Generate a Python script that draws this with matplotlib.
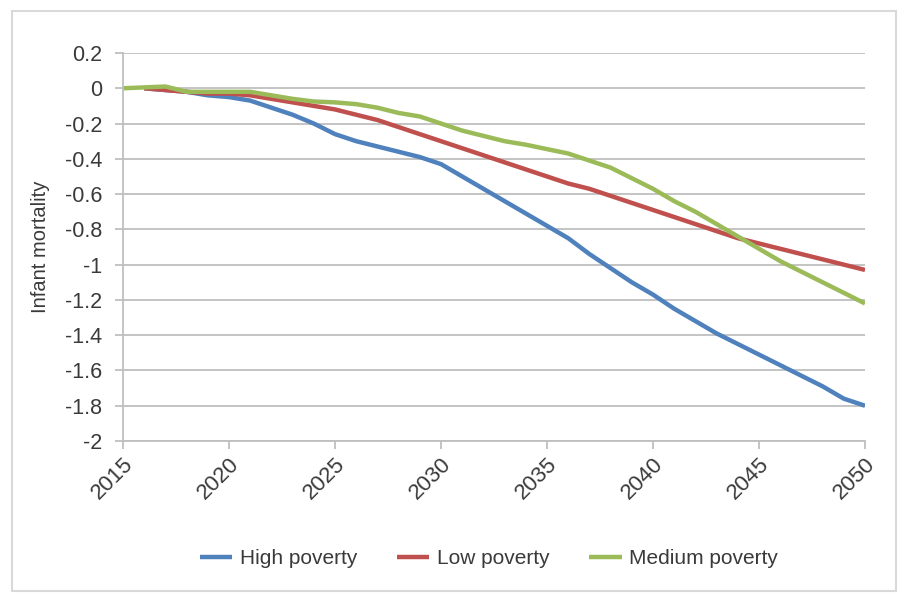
import matplotlib.pyplot as plt
from matplotlib.patches import Rectangle

years = list(range(2015, 2051))

high_years = years[1:]
high_poverty = [0, -0.01, -0.02, -0.04, -0.05, -0.07, -0.11, -0.15, -0.20, -0.26,
                -0.30, -0.33, -0.36, -0.39, -0.43, -0.50, -0.57, -0.64, -0.71, -0.78,
                -0.85, -0.94, -1.02, -1.10, -1.17, -1.25, -1.32, -1.39, -1.45, -1.51,
                -1.57, -1.63, -1.69, -1.76, -1.80]

low_years = years[1:]
low_poverty = [0, -0.01, -0.02, -0.03, -0.03, -0.04, -0.06, -0.08, -0.10, -0.12,
               -0.15, -0.18, -0.22, -0.26, -0.30, -0.34, -0.38, -0.42, -0.46, -0.50,
               -0.54, -0.57, -0.61, -0.65, -0.69, -0.73, -0.77, -0.81, -0.85, -0.88,
               -0.91, -0.94, -0.97, -1.00, -1.03]

medium_years = years
medium_poverty = [0, 0.005, 0.01, -0.02, -0.02, -0.02, -0.02, -0.04, -0.06, -0.075,
                  -0.08, -0.09, -0.11, -0.14, -0.16, -0.20, -0.24, -0.27, -0.30, -0.32,
                  -0.345, -0.37, -0.41, -0.45, -0.51, -0.57, -0.64, -0.70, -0.77, -0.84,
                  -0.91, -0.98, -1.04, -1.10, -1.16, -1.22]

series_names = ["High poverty", "Low poverty", "Medium poverty"]
colors = ["#4F81BD", "#C0504D", "#9BBB59"]

x_ticks = list(range(2015, 2051, 5))
y_ticks = [0.2, 0, -0.2, -0.4, -0.6, -0.8, -1, -1.2, -1.4, -1.6, -1.8, -2]
y_labels = ["0.2", "0", "-0.2", "-0.4", "-0.6", "-0.8", "-1", "-1.2", "-1.4",
            "-1.6", "-1.8", "-2"]

plt.rcParams['font.family'] = ['Liberation Sans', 'DejaVu Sans']

TEXT = "#3a3a3a"
AXIS = "#BFBFBF"

fig = plt.figure(figsize=(9.08, 5.99), dpi=100)
W, H = 908, 599
fig.patches.append(Rectangle((12 / W, 8 / H), 884 / W, 580 / H,
                             transform=fig.transFigure, fill=False,
                             edgecolor="#D9D9D9", linewidth=1.5))

ax = fig.add_axes([123 / W, 1 - 441 / H, (865 - 123) / W, (441 - 53) / H])

for (xs, ys), name, c in zip([(high_years, high_poverty),
                              (low_years, low_poverty),
                              (medium_years, medium_poverty)],
                             series_names, colors):
    ax.plot(xs, ys, color=c, linewidth=3.2, label=name,
            solid_capstyle='butt', solid_joinstyle='round')

ax.set_xlim(2015, 2050)
ax.set_ylim(-2, 0.2)
ax.grid(axis='y', color=AXIS, linewidth=1.3)
ax.set_axisbelow(True)
for side in ['top', 'right']:
    ax.spines[side].set_visible(False)
for side in ['left', 'bottom']:
    ax.spines[side].set_color(AXIS)
    ax.spines[side].set_linewidth(1.3)
ax.tick_params(axis='both', color=AXIS, length=6, width=1.3)
ax.tick_params(axis='y', pad=9)
ax.tick_params(axis='x', pad=3)

ax.set_yticks(y_ticks)
ax.set_yticklabels(y_labels, fontsize=15.5, color=TEXT)
ax.set_xticks(x_ticks)
ax.set_xticklabels([str(t) for t in x_ticks], rotation=45, ha='right',
                   va='top', rotation_mode='anchor', fontsize=16, color=TEXT)

ax.set_ylabel("Infant mortality", fontsize=14.5, color=TEXT, labelpad=11)

leg = fig.legend(loc='center', bbox_to_anchor=(489 / W, 1 - 559 / H), ncol=3,
                 frameon=False, fontsize=15, handlelength=1.55,
                 columnspacing=1.9, handletextpad=0.38)
for t in leg.get_texts():
    t.set_color(TEXT)

fig.savefig("out.png", dpi=100)
